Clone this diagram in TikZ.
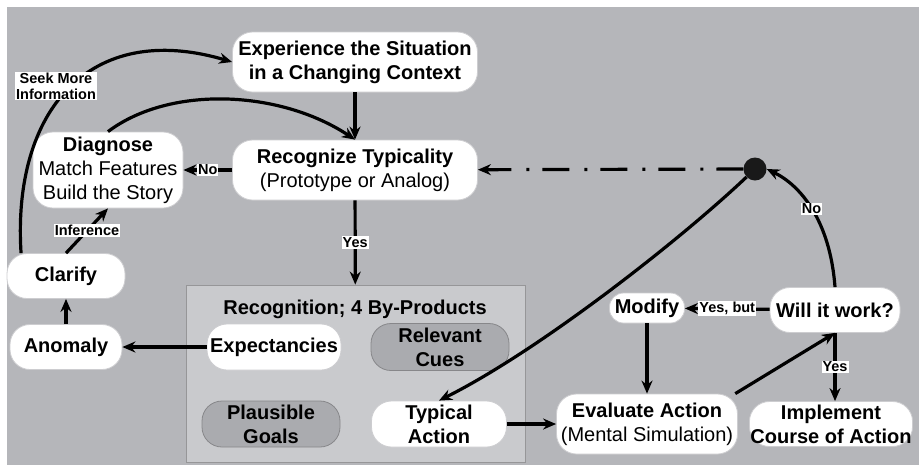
\documentclass[tikz,border=0pt]{standalone}
\usepackage{fontspec}
\setmainfont{Liberation Sans}
\usepackage{tikz}
\usetikzlibrary{shapes.geometric, arrows.meta}
\definecolor{bggray}{RGB}{181,182,186}
\definecolor{regionfill}{RGB}{201,202,205}
\definecolor{regionline}{RGB}{150,150,152}
\definecolor{pillgray}{RGB}{170,171,175}
\definecolor{pillline}{RGB}{135,135,138}
\definecolor{boxline}{RGB}{205,205,208}
\newcommand{\bigtxt}{\fontsize{20}{24}\selectfont}
\newcommand{\lbltxt}{\fontsize{14.5}{16}\selectfont}
\tikzstyle{pill} = [rectangle, rounded corners=20pt, fill=white, draw=boxline, line width=0.8pt, align=center, font=\bigtxt, inner sep=1pt]
\tikzstyle{graypill} = [pill, fill=pillgray, draw=pillline]
\tikzstyle{region} = [rectangle, fill=regionfill, draw=regionline, line width=0.8pt]
\tikzstyle{lbl} = [fill=white, inner sep=1pt, font=\lbltxt\bfseries]
\tikzstyle{arrow} = [line width=3.2pt, -{Stealth[length=13pt,width=11pt]}]
\tikzstyle{dotdash} = [arrow, dash pattern=on 27pt off 13pt on 3pt off 15pt]

\begin{document}
\begin{tikzpicture}[x=1pt, y=-1pt]
\useasboundingbox (0,0) rectangle (919,467);
\fill[bggray] (7,7) rectangle (919,465);

% recognition area with its by-products
\node (recog) [region, minimum width=339pt, minimum height=177pt] at (355.5,373.5) {};
\node (recogtitle) [font=\bigtxt\bfseries] at (355,309) {Recognition; 4 By-Products};
\node (expc) [pill, font=\bigtxt\bfseries, minimum width=134pt, minimum height=46pt] at (274,347) {Expectancies};
\node (cues) [graypill, font=\bigtxt\bfseries, minimum width=138pt, minimum height=47pt] at (440,347) {Relevant\\Cues};
\node (goals) [graypill, font=\bigtxt\bfseries, minimum width=138pt, minimum height=46pt] at (271,424) {Plausible\\Goals};
\node (typ) [pill, font=\bigtxt\bfseries, minimum width=135pt, minimum height=46pt] at (439,424) {Typical\\Action};

% main loop
\node (exp) [pill, font=\bigtxt\bfseries, minimum width=245pt, minimum height=60pt] at (355,62) {Experience the Situation\\in a Changing Context};
\node (rec) [pill, minimum width=245pt, minimum height=60pt] at (355,170) {\textbf{Recognize Typicality}\\(Prototype or Analog)};
\node (diag) [pill, minimum width=150pt, minimum height=76pt] at (108,170) {\textbf{Diagnose}\\Match Features\\Build the Story};
\node (clar) [pill, font=\bigtxt\bfseries, minimum width=118pt, minimum height=45pt] at (66,276) {Clarify};
\node (anom) [pill, font=\bigtxt\bfseries, minimum width=112pt, minimum height=45pt] at (66,347) {Anomaly};
\node (junc) [circle, fill=black!90, minimum size=23pt, inner sep=0pt] at (755,169) {};

% action side
\node (eval) [pill, minimum width=181pt, minimum height=60pt] at (647,424) {\textbf{Evaluate Action}\\(Mental Simulation)};
\node (modify) [pill, rounded corners=14pt, font=\bigtxt\bfseries, minimum width=75pt, minimum height=30pt] at (647,308) {Modify};
\node (will) [pill, font=\bigtxt\bfseries, minimum width=130pt, minimum height=45pt] at (835,310) {Will it work?};
\node (impl) [pill, font=\bigtxt\bfseries, minimum width=160pt, minimum height=45pt] at (831,424) {Implement\\Course of Action};

\draw [arrow] (exp) -- (rec);
\draw [arrow] (diag.north) .. controls (170,85) and (280,90) .. (rec.north);
\draw [arrow] (rec) -- node [lbl] {No} (diag);
\draw [arrow] (rec) -- node [lbl] {Yes} (recog);
\draw [arrow] (expc) -- (anom);
\draw [arrow] (anom) -- (clar);
\draw [arrow] (clar.north) -- node [lbl] {Inference} (diag.south);
\draw [arrow] (clar.153) .. controls (12,110) and (90,20) .. (exp.west);
\node (seek) [lbl, align=center] at (56,86) {Seek More\\Information};
\draw [dotdash] (junc) -- (rec);
\draw [arrow] (junc) .. controls (680,240) and (540,350) .. (typ.north);
\draw [arrow] (typ) -- (eval);
\draw [arrow] (modify) -- (eval);
\draw [arrow] (eval.19) -- (will.south);
\draw [arrow] (will) -- node [lbl] {Yes, but} (modify);
\draw [arrow] (will.south) -- node [lbl] {Yes} (will.south |- impl.north);
\draw [arrow] (will.north) .. controls (830,220) and (800,185) .. node [lbl] {No} (junc.east);
\end{tikzpicture}
\end{document}
